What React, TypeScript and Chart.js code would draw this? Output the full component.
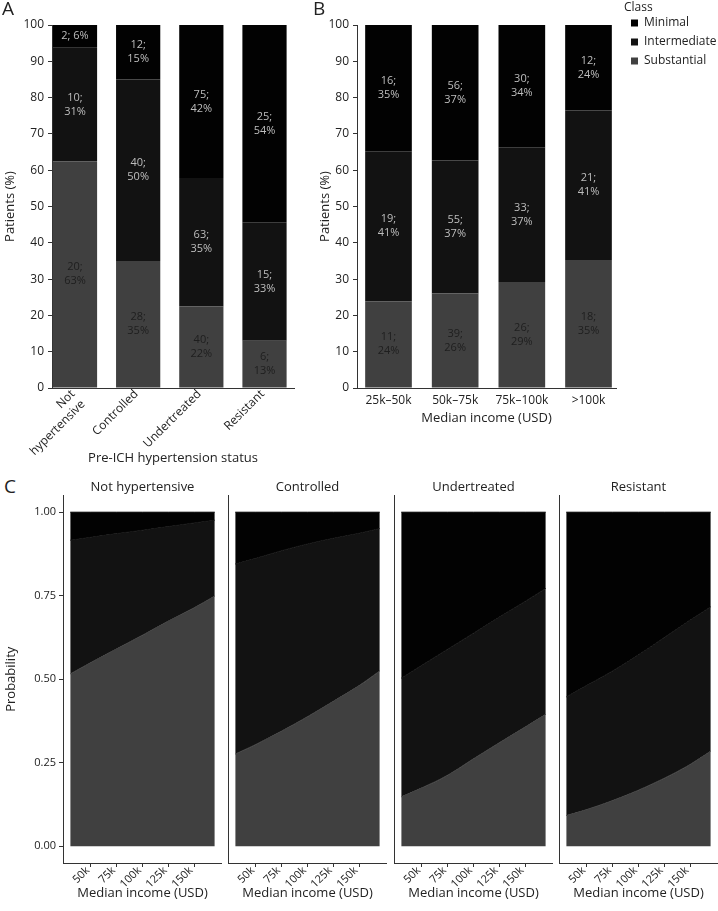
import React, { useEffect, useRef } from 'react';
import { Chart, registerables } from 'chart.js';

Chart.register(...registerables);

const FONT = "'Open Sans', 'Noto Sans', sans-serif";
const TEXT = '#222222';
const AXIS = '#333333';

// Classes (stack order bottom -> top)
const CLASSES = ['Substantial', 'Intermediate', 'Minimal'];
const CLASS_COLORS = ['#404040', '#121212', '#020202'];
const LABEL_COLORS = ['#1e1e1e', '#bebebe', '#bebebe'];

// Panel A: pre-ICH hypertension status (counts)
const statusLabels: (string | string[])[] = [['Not', 'hypertensive'], 'Controlled', 'Undertreated', 'Resistant'];
const statusPos = [1, 2, 3, 4];
const statusSubstantial = [20, 28, 40, 6];
const statusIntermediate = [10, 40, 63, 15];
const statusMinimal = [2, 12, 75, 25];

// Panel B: median income (counts)
const incomeLabels = ['25k–50k', '50k–75k', '75k–100k', '>100k'];
const incomePos = [1, 2, 3, 4];
const incomeSubstantial = [11, 39, 26, 18];
const incomeIntermediate = [19, 55, 33, 21];
const incomeMinimal = [16, 56, 30, 12];

const percentTicks = [0, 10, 20, 30, 40, 50, 60, 70, 80, 90, 100];

// Panel C: predicted probabilities vs income (thousand USD)
const facetTitles = ['Not hypertensive', 'Controlled', 'Undertreated', 'Resistant'];
const incomeGrid = [30, 50, 75, 100, 125, 150, 170];
const incomeTicks = [50, 75, 100, 125, 150];
const probTicks = [0, 0.25, 0.5, 0.75, 1];
// cumulative P(Substantial)
const lowerNotHyp = [0.516, 0.55, 0.591, 0.632, 0.674, 0.714, 0.749];
const lowerControlled = [0.276, 0.305, 0.345, 0.388, 0.434, 0.481, 0.525];
const lowerUndertreated = [0.148, 0.175, 0.213, 0.262, 0.31, 0.357, 0.395];
const lowerResistant = [0.092, 0.11, 0.137, 0.168, 0.204, 0.245, 0.285];
// cumulative P(Substantial + Intermediate)
const upperNotHyp = [0.916, 0.925, 0.936, 0.946, 0.957, 0.968, 0.976];
const upperControlled = [0.845, 0.862, 0.885, 0.905, 0.922, 0.937, 0.951];
const upperUndertreated = [0.503, 0.542, 0.59, 0.638, 0.686, 0.733, 0.772];
const upperResistant = [0.447, 0.482, 0.525, 0.573, 0.625, 0.677, 0.717];
const totalProb = [1, 1, 1, 1, 1, 1, 1];

const facetLower = [lowerNotHyp, lowerControlled, lowerUndertreated, lowerResistant];
const facetUpper = [upperNotHyp, upperControlled, upperUndertreated, upperResistant];

const font = (size: number) => ({ size, family: FONT, weight: 'normal' as const });

function barDatasets(positions: number[], counts: number[][]) {
  const totals = positions.map((_, j) => counts.reduce((s, c) => s + c[j], 0));
  return CLASSES.map((name, i) => ({
    label: name,
    data: positions.map((x, j) => ({ x, y: (counts[i][j] / totals[j]) * 100 })),
    backgroundColor: CLASS_COLORS[i],
    borderColor: CLASS_COLORS[i],
    borderWidth: 0,
    barPercentage: 0.7,
    categoryPercentage: 1,
  }));
}

function barLabelPlugin(counts: number[][]) {
  const totals = counts[0].map((_, j) => counts.reduce((s, c) => s + c[j], 0));
  return {
    id: 'barLabels',
    afterDatasetsDraw(chart: any) {
      const ctx = chart.ctx;
      ctx.save();
      ctx.font = `11px ${FONT}`;
      ctx.textAlign = 'center';
      ctx.textBaseline = 'middle';
      chart.data.datasets.forEach((_: any, i: number) => {
        const meta = chart.getDatasetMeta(i);
        meta.data.forEach((bar: any, j: number) => {
          const { x, y, base } = bar.getProps(['x', 'y', 'base'], true);
          const h = Math.abs(base - y);
          const cy = (y + base) / 2;
          const n = counts[i][j];
          const pct = Math.round((n / totals[j]) * 100);
          ctx.fillStyle = LABEL_COLORS[i];
          if (h < 30) {
            ctx.fillText(`${n}; ${pct}%`, x, cy);
          } else {
            ctx.fillText(`${n};`, x, cy - 7);
            ctx.fillText(`${pct}%`, x, cy + 7);
          }
        });
      });
      ctx.restore();
    },
  };
}

const legendShift = {
  id: 'legendShift',
  afterLayout(chart: any) {
    const lg = chart.legend;
    if (lg) {
      lg.left += 8;
      lg.right += 8;
    }
  },
};

function barConfig(opts: {
  letter: string;
  positions: number[];
  labels: (string | string[])[];
  counts: number[][];
  xMin: number;
  xMax: number;
  xTitle: string;
  rotate: boolean;
  yWidth: number;
  yTitlePad: number;
  xHeight: number;
  padLeft: number;
  padRight: number;
  legend: boolean;
}) {
  const o = opts;
  return {
    type: 'bar',
    data: { datasets: barDatasets(o.positions, o.counts) },
    options: {
      responsive: false,
      animation: false,
      events: [],
      layout: { padding: { left: o.padLeft, right: o.padRight, top: 0, bottom: 0 } },
      plugins: {
        tooltip: { enabled: false },
        title: {
          display: true,
          text: o.letter,
          align: 'start',
          color: TEXT,
          font: font(19),
          padding: { top: -2, bottom: 4.2 },
        },
        legend: {
          display: o.legend,
          position: 'right',
          align: 'start',
          reverse: true,
          maxWidth: 102,
          title: {
            display: true,
            text: 'Class',
            position: 'start',
            color: TEXT,
            font: font(12),
            padding: { top: 2, bottom: -6.4 },
          },
          labels: { boxWidth: 7, boxHeight: 7, padding: 7, color: TEXT, font: font(12) },
        },
      },
      scales: {
        x: {
          type: 'linear',
          stacked: true,
          min: o.xMin,
          max: o.xMax,
          offset: false,
          afterBuildTicks: (s: any) => {
            s.ticks = o.positions.map((v) => ({ value: v }));
          },
          ticks: {
            autoSkip: false,
            minRotation: o.rotate ? 45 : 0,
            maxRotation: o.rotate ? 45 : 0,
            padding: o.rotate ? -1 : 5,
            labelOffset: o.rotate ? -2 : 0,
            color: TEXT,
            font: font(12),
            callback: (_v: any, i: number) => o.labels[i],
          },
          grid: { display: false, drawTicks: false, offset: false },
          border: { display: true, color: AXIS, width: 1 },
          title: { display: true, text: o.xTitle, color: TEXT, font: font(13), padding: { top: 0, bottom: 4.2 } },
          afterFit: (s: any) => {
            s.height = o.xHeight;
          },
        },
        y: {
          stacked: true,
          min: 0,
          max: 100,
          afterBuildTicks: (s: any) => {
            s.ticks = percentTicks.map((v) => ({ value: v }));
          },
          ticks: { padding: 4, color: TEXT, font: font(12) },
          grid: { display: true, drawOnChartArea: false, drawTicks: true, tickLength: 4, color: AXIS },
          border: { display: true, color: AXIS, width: 1 },
          title: { display: true, text: 'Patients (%)', color: TEXT, font: font(13), padding: { top: o.yTitlePad, bottom: 0 } },
          afterFit: (s: any) => {
            s.width = o.yWidth;
          },
        },
      },
    },
    plugins: o.legend ? [barLabelPlugin(o.counts), legendShift] : [barLabelPlugin(o.counts)],
  };
}

function facetConfig(i: number) {
  const first = i === 0;
  const lower = facetLower[i];
  const upper = facetUpper[i];
  const series = [lower, upper, totalProb];
  return {
    type: 'line',
    data: {
      datasets: series.map((vals, k) => ({
        label: CLASSES[k],
        data: incomeGrid.map((x, j) => ({ x, y: vals[j] })),
        fill: k === 0 ? 'origin' : '-1',
        backgroundColor: CLASS_COLORS[k],
        borderColor: CLASS_COLORS[k],
        borderWidth: 1,
        pointRadius: 0,
        cubicInterpolationMode: 'monotone',
      })),
    },
    options: {
      responsive: false,
      animation: false,
      events: [],
      layout: { padding: 0 },
      plugins: {
        legend: { display: false },
        tooltip: { enabled: false },
        title: {
          display: true,
          text: facetTitles[i],
          fullSize: false,
          align: 'center',
          color: TEXT,
          font: font(13),
          padding: { top: 9.2, bottom: 0.7 },
        },
      },
      scales: {
        x: {
          type: 'linear',
          min: 23,
          max: 177,
          afterBuildTicks: (s: any) => {
            s.ticks = incomeTicks.map((v) => ({ value: v }));
          },
          ticks: {
            autoSkip: false,
            minRotation: 45,
            maxRotation: 45,
            padding: -3,
            labelOffset: -3,
            color: TEXT,
            font: font(11),
            callback: (v: any) => `${v}k`,
          },
          grid: { display: true, drawOnChartArea: false, drawTicks: true, tickLength: 4, color: AXIS },
          border: { display: true, color: AXIS, width: 1 },
          title: { display: true, text: 'Median income (USD)', color: TEXT, font: font(13), padding: { top: 0, bottom: 9.5 } },
          afterFit: (s: any) => {
            s.height = 48;
          },
        },
        y: {
          type: 'linear',
          min: -0.05,
          max: 1.05,
          afterBuildTicks: (s: any) => {
            s.ticks = probTicks.map((v) => ({ value: v }));
          },
          ticks: { display: first, padding: 3, color: TEXT, font: font(11), callback: (v: any) => Number(v).toFixed(2) },
          grid: { display: first, drawOnChartArea: false, drawTicks: true, tickLength: 4, color: AXIS },
          border: { display: true, color: AXIS, width: 1 },
          title: { display: first, text: 'Probability', color: TEXT, font: font(13), padding: { top: 3.7, bottom: 0 } },
          afterFit: (s: any) => {
            s.width = first ? 63 : 6;
          },
        },
      },
    },
  };
}

type Box = { left: number; top: number; width: number; height: number };

function ChartBox({ box, make }: { box: Box; make: () => any }) {
  const ref = useRef<HTMLCanvasElement>(null);
  useEffect(() => {
    const chart = new Chart(ref.current as HTMLCanvasElement, make());
    return () => chart.destroy();
  }, []);
  return (
    <canvas
      ref={ref}
      width={box.width}
      height={box.height}
      style={{ position: 'absolute', left: box.left, top: box.top, width: box.width, height: box.height }}
    />
  );
}

const facetAxisX = [63, 228, 394, 559];

export default function App() {
  return (
    <div
      style={{
        position: 'fixed',
        left: 0,
        top: 0,
        width: 718,
        height: 911,
        background: '#ffffff',
        overflow: 'hidden',
        fontFamily: FONT,
      }}
    >
      <ChartBox
        box={{ left: 0, top: 0, width: 300, height: 470 }}
        make={() =>
          barConfig({
            letter: 'A',
            positions: statusPos,
            labels: statusLabels,
            counts: [statusSubstantial, statusIntermediate, statusMinimal],
            xMin: 0.636,
            xMax: 4.467,
            xTitle: 'Pre-ICH hypertension status',
            rotate: true,
            yWidth: 50,
            yTitlePad: 0,
            xHeight: 82,
            padLeft: 2,
            padRight: 6,
            legend: false,
          })
        }
      />
      <ChartBox
        box={{ left: 313, top: 0, width: 405, height: 430 }}
        make={() =>
          barConfig({
            letter: 'B',
            positions: incomePos,
            labels: incomeLabels,
            counts: [incomeSubstantial, incomeIntermediate, incomeMinimal],
            xMin: 0.5275,
            xMax: 4.4125,
            xTitle: 'Median income (USD)',
            rotate: false,
            yWidth: 44,
            yTitlePad: 4,
            xHeight: 42,
            padLeft: 0,
            padRight: 0,
            legend: true,
          })
        }
      />
      <div
        style={{
          position: 'absolute',
          left: 4,
          top: 477,
          fontSize: 19,
          lineHeight: 1,
          color: TEXT,
          fontFamily: FONT,
        }}
      >
        C
      </div>
      {facetAxisX.map((x0, i) => {
        const yW = i === 0 ? 63 : 6;
        return (
          <ChartBox
            key={i}
            box={{ left: x0 - yW, top: 470, width: yW + 159, height: 441 }}
            make={() => facetConfig(i)}
          />
        );
      })}
    </div>
  );
}
